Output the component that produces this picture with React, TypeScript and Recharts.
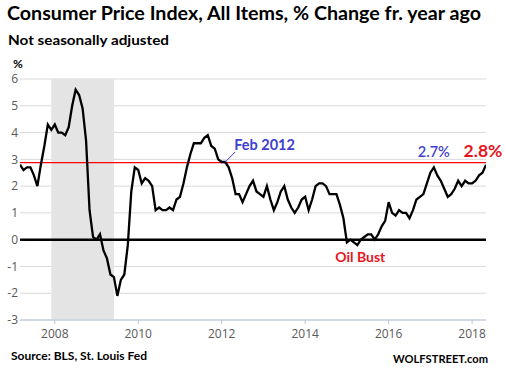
import * as React from 'react'
import {
  LineChart,
  Line,
  XAxis,
  YAxis,
  CartesianGrid,
  ReferenceArea,
  ReferenceLine,
  ReferenceDot } from 'recharts';

// CPI year-over-year % change, monthly, Mar 2007 .. May 2018
const startYear = 2007
const startMonth = 3
const cpiYoY = [
  2.8, 2.6, 2.7, 2.7, 2.4, 2.0, 2.8, 3.5, 4.3, 4.1,
  4.3, 4.0, 4.0, 3.9, 4.2, 5.0, 5.6, 5.4, 4.9, 3.7, 1.1, 0.1,
  0.0, 0.2, -0.4, -0.7, -1.3, -1.4, -2.1, -1.5, -1.3, -0.2, 1.8, 2.7,
  2.6, 2.1, 2.3, 2.2, 2.0, 1.1, 1.2, 1.1, 1.1, 1.2, 1.1, 1.5,
  1.6, 2.1, 2.7, 3.2, 3.6, 3.6, 3.6, 3.8, 3.9, 3.5, 3.4, 3.0,
  2.9, 2.9, 2.7, 2.3, 1.7, 1.7, 1.4, 1.7, 2.0, 2.2, 1.8, 1.7,
  1.6, 2.0, 1.5, 1.1, 1.4, 1.8, 2.0, 1.5, 1.2, 1.0, 1.2, 1.5,
  1.6, 1.1, 1.5, 2.0, 2.1, 2.1, 2.0, 1.7, 1.7, 1.7, 1.3, 0.8,
  -0.1, 0.0, -0.1, -0.2, 0.0, 0.1, 0.2, 0.2, 0.0, 0.2, 0.5, 0.7,
  1.4, 1.0, 0.9, 1.1, 1.0, 1.0, 0.8, 1.1, 1.5, 1.6, 1.7, 2.1,
  2.5, 2.7, 2.4, 2.2, 1.9, 1.6, 1.7, 1.9, 2.2, 2.0, 2.2, 2.1,
  2.1, 2.2, 2.4, 2.5, 2.8,
]
const yearTicks = [2008, 2010, 2012, 2014, 2016, 2018]
const pctTicks = [-3, -2, -1, 0, 1, 2, 3, 4, 5, 6]

// recession (Dec 2007 - Jun 2009) and the highlighted level
const recessionStart = [2007, 12]
const recessionEnd = [2009, 6]
const highLine = 2.88

const toT = (y: number, m: number) => y + (m - 1) / 12

const data = cpiYoY.map((v, i) => ({
  t: toT(startYear, startMonth) + i / 12,
  v,
}))

const last = data[data.length - 1]
const calloutFeb = data.find(d => Math.abs(d.t - toT(2012, 2)) < 0.01)!
const callout2017 = data.find(d => Math.abs(d.t - toT(2017, 2)) < 0.01)!
const calloutOil = data.find(d => Math.abs(d.t - toT(2015, 4)) < 0.01)!

const serif = 'Lato, "Open Sans", sans-serif'

const FebLabel = (p: any) => (
  <g>
    <line x1={p.cx} y1={p.cy} x2={p.cx + 10} y2={p.cy - 10} stroke="#4040d0" strokeWidth={1} />
    <text x={p.cx + 9} y={p.cy - 12} fill="#4040d0" fontFamily={serif} fontWeight={700} fontSize={14.5}>Feb 2012</text>
  </g>
)

const PeakLabel = (p: any) => (
  <text x={p.cx} y={p.cy - 10} textAnchor="middle" fill="#4343cf" fontFamily={serif} fontWeight={600} fontSize={14.5}>2.7%</text>
)

const LastLabel = (p: any) => (
  <text x={p.cx - 3} y={p.cy - 8} textAnchor="middle" fill="#e8141e" fontFamily={serif} fontWeight={700} fontSize={17.5}>2.8%</text>
)

const OilLabel = (p: any) => (
  <text x={p.cx + 3} y={p.cy + 17} textAnchor="middle" fill="#e8141e" fontFamily={serif} fontWeight={700} fontSize={14}>Oil Bust</text>
)

const App = () => {
  return (
    <div style={{ position: 'absolute', left: 0, top: 0, width: 505, height: 377, background: '#fff' }}>
      <LineChart width={505} height={377} data={data} margin={{ top: 79, right: 19, bottom: 0, left: 0 }}>
        <CartesianGrid vertical={false} stroke="#d9d9d9" />
        <ReferenceArea
          x1={toT(recessionStart[0], recessionStart[1])}
          x2={toT(recessionEnd[0], recessionEnd[1])}
          fill="#e4e4e4" fillOpacity={1} stroke="none" />
        <XAxis
          dataKey="t" type="number" height={57}
          domain={[data[0].t, last.t]} ticks={yearTicks} allowDataOverflow
          tickFormatter={(t: number) => String(Math.round(t))}
          axisLine={{ stroke: '#b7c6dc' }} tickLine={{ stroke: '#b7c6dc' }}
          tickSize={4} tickMargin={5}
          tick={{ fill: '#595959', fontSize: 12, fontFamily: '"Open Sans", sans-serif' }} />
        <YAxis
          width={20} domain={[-3, 6]} ticks={pctTicks} allowDataOverflow
          axisLine={false} tickLine={false} tickSize={0} tickMargin={2}
          tick={{ fill: '#595959', fontSize: 12, fontFamily: '"Open Sans", sans-serif' }} />
        <ReferenceLine y={0} stroke="#000" strokeWidth={2.5} />
        <ReferenceLine y={highLine} stroke="#ff0000" strokeWidth={1.2} />
        <Line type="linear" dataKey="v" stroke="#000" strokeWidth={2.3} dot={false} isAnimationActive={false} />
        <ReferenceDot x={calloutFeb.t} y={calloutFeb.v} r={1} shape={FebLabel} />
        <ReferenceDot x={callout2017.t} y={callout2017.v} r={1} shape={PeakLabel} />
        <ReferenceDot x={last.t} y={last.v} r={1} shape={LastLabel} ifOverflow="visible" />
        <ReferenceDot x={calloutOil.t} y={calloutOil.v} r={1} shape={OilLabel} />
      </LineChart>
      <svg width={505} height={377} style={{ position: 'absolute', left: 0, top: 0, pointerEvents: 'none' }}>
        <text x={7} y={20} fontFamily={serif} fontWeight={700} fontSize={18.5} fill="#000" textLength={474} lengthAdjust="spacingAndGlyphs">
          Consumer Price Index, All Items, % Change fr. year ago
        </text>
        <text x={8} y={45} fontFamily={serif} fontWeight={700} fontSize={14} fill="#000" textLength={161} lengthAdjust="spacingAndGlyphs">
          Not seasonally adjusted
        </text>
        <text x={13} y={68} fontFamily={serif} fontWeight={700} fontSize={12} fill="#000">%</text>
        <text x={11} y={360} fontFamily={serif} fontWeight={700} fontSize={12} fill="#000" textLength={136} lengthAdjust="spacingAndGlyphs">
          Source: BLS, St. Louis Fed
        </text>
        <text x={393} y={363} fontFamily={serif} fontWeight={700} fontSize={12} fill="#000" textLength={95} lengthAdjust="spacingAndGlyphs">
          WOLFSTREET.com
        </text>
      </svg>
    </div>
  )
}

export default App;
